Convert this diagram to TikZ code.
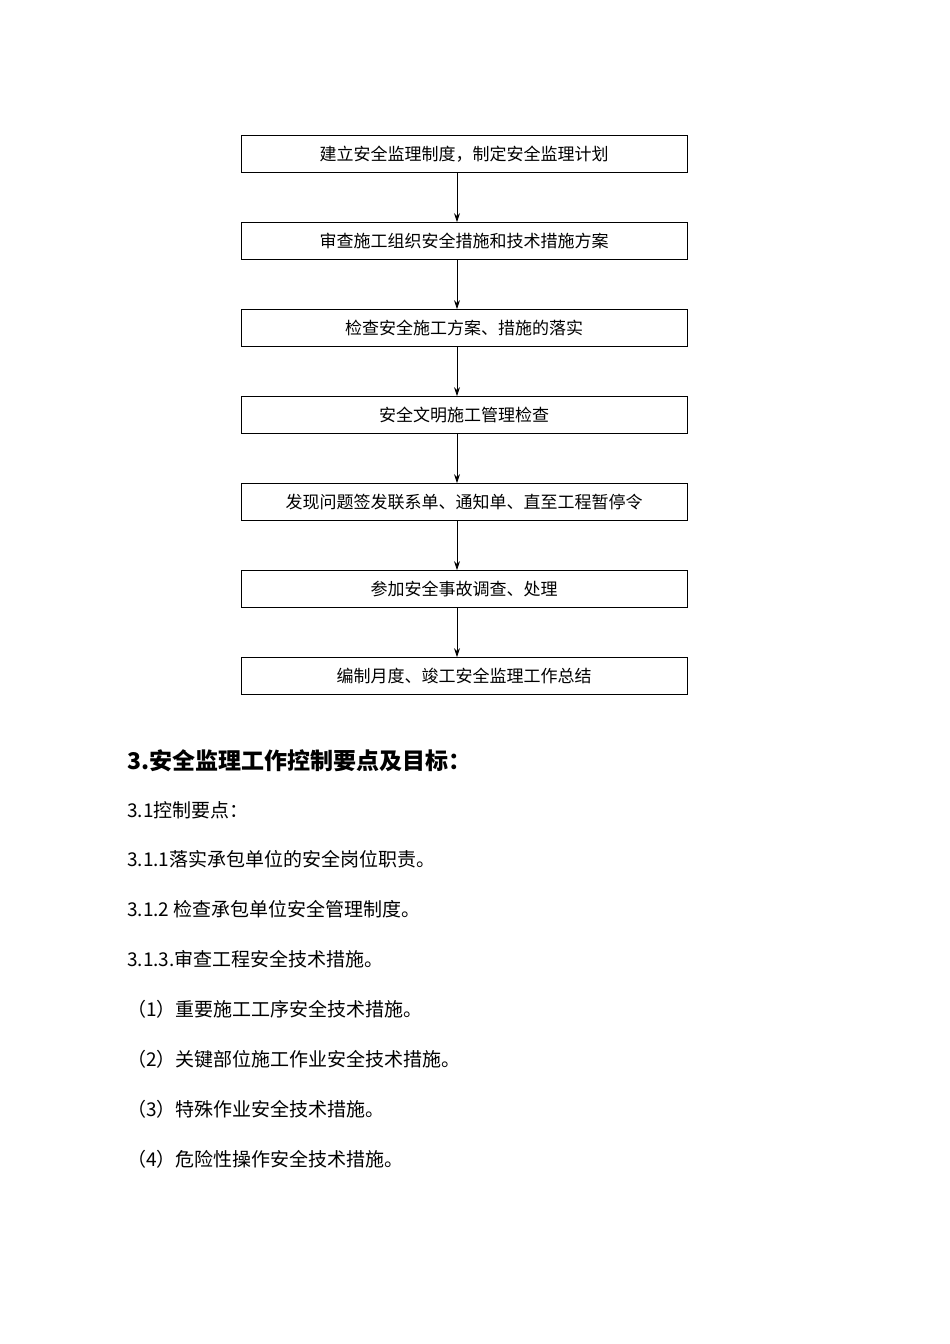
\documentclass[tikz,border=0pt]{standalone}
\usepackage{fontspec}
\newfontfamily\cjk{Noto Sans CJK SC}
\usetikzlibrary{arrows.meta,positioning}

\begin{document}
\begin{tikzpicture}[x=1pt,y=1pt,>={Stealth[length=9pt,width=6pt]},
        stepbox/.style={draw,thick,minimum width=446pt,minimum height=37pt,font=\cjk\fontsize{17}{20}\selectfont},
        line/.style={anchor=west,inner sep=0pt,font=\cjk\fontsize{19}{22}\selectfont}]
  \useasboundingbox (0,0) rectangle (950,-1344);

  \node[stepbox] (s1) at (464,-154) {建立安全监理制度，制定安全监理计划};
  \node[stepbox] (s2) at (464,-241) {审查施工组织安全措施和技术措施方案};
  \node[stepbox] (s3) at (464,-328) {检查安全施工方案、措施的落实};
  \node[stepbox] (s4) at (464,-415) {安全文明施工管理检查};
  \node[stepbox] (s5) at (464,-502) {发现问题签发联系单、通知单、直至工程暂停令};
  \node[stepbox] (s6) at (464,-589) {参加安全事故调查、处理};
  \node[stepbox] (s7) at (464,-676) {编制月度、竣工安全监理工作总结};

  \foreach \a/\b in {s1/s2,s2/s3,s3/s4,s4/s5,s5/s6,s6/s7}
    \draw[->,thick] ([xshift=-7pt]\a.south) -- ([xshift=-7pt]\b.north);

  \node[line,font=\cjk\bfseries\fontsize{23}{26}\selectfont] (h) at (127,-761) {3.安全监理工作控制要点及目标：};
  \node[line] (l1) at (127,-810) {3.1控制要点：};
  \node[line] (l2) at (127,-859) {3.1.1落实承包单位的安全岗位职责。};
  \node[line] (l3) at (127,-909) {3.1.2 检查承包单位安全管理制度。};
  \node[line] (l4) at (127,-959) {3.1.3.审查工程安全技术措施。};
  \node[line] (l5) at (127,-1009) {（1）重要施工工序安全技术措施。};
  \node[line] (l6) at (127,-1059) {（2）关键部位施工作业安全技术措施。};
  \node[line] (l7) at (127,-1109) {（3）特殊作业安全技术措施。};
  \node[line] (l8) at (127,-1159) {（4）危险性操作安全技术措施。};
\end{tikzpicture}
\end{document}
